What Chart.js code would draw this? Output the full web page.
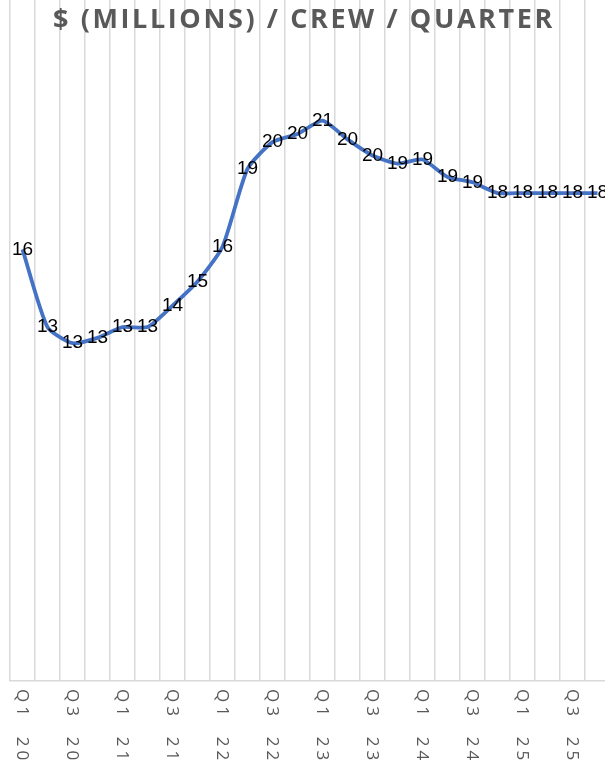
<!DOCTYPE html>
<html>
<head>
<meta charset="utf-8">
<script src="https://cdn.jsdelivr.net/npm/chart.js@4"></script>
<style>
  html, body { margin: 0; padding: 0; background: #fff; overflow: hidden; }
  #wrap { width: 605px; height: 766px; overflow: hidden; }
</style>
</head>
<body>
<div id="wrap"><canvas id="myChart" width="610" height="766"></canvas></div>
<script>
const quarters = ['Q1 20','Q2 20','Q3 20','Q4 20','Q1 21','Q2 21','Q3 21','Q4 21',
  'Q1 22','Q2 22','Q3 22','Q4 22','Q1 23','Q2 23','Q3 23','Q4 23',
  'Q1 24','Q2 24','Q3 24','Q4 24','Q1 25','Q2 25','Q3 25','Q4 25'];
const revenuePerCrew = [16.1, 13.2, 12.6, 12.8, 13.2, 13.2, 14.0, 14.9,
  16.2, 19.1, 20.1, 20.4, 20.9, 20.2, 19.6, 19.3,
  19.45, 18.8, 18.6, 18.2, 18.2, 18.2, 18.2, 18.2];
const shownTicks = ['Q1 20','Q3 20','Q1 21','Q3 21','Q1 22','Q3 22','Q1 23','Q3 23','Q1 24','Q3 24','Q1 25','Q3 25'];
const chartTitle = '$ (MILLIONS) / CREW / QUARTER';

const titlePlugin = {
  id: 'overTitle',
  afterDraw(chart) {
    const c = chart.ctx;
    c.save();
    c.font = 'bold 27px "Open Sans"';
    c.fillStyle = '#595959';
    c.letterSpacing = '2.6px';
    c.textAlign = 'center';
    c.textBaseline = 'middle';
    c.fillText(chartTitle, 304, 20);
    c.restore();
  }
};

const valueLabels = {
  id: 'valueLabels',
  afterDatasetsDraw(chart) {
    const c = chart.ctx;
    const meta = chart.getDatasetMeta(0);
    c.save();
    c.font = '19px "Liberation Sans"';
    c.fillStyle = '#000';
    c.textAlign = 'center';
    c.textBaseline = 'middle';
    meta.data.forEach((pt, i) => {
      c.fillText(Math.round(revenuePerCrew[i]), pt.x, pt.y);
    });
    c.restore();
  }
};

const sideTicks = {
  id: 'sideTicks',
  afterDraw(chart) {
    const c = chart.ctx;
    const xs = chart.scales.x;
    c.save();
    c.font = '17px "Open Sans"';
    c.fillStyle = '#595959';
    c.letterSpacing = '4px';
    c.textAlign = 'left';
    c.textBaseline = 'middle';
    shownTicks.forEach(t => {
      const x = xs.getPixelForValue(quarters.indexOf(t));
      c.save();
      c.translate(x - 1, chart.chartArea.bottom + 8);
      c.rotate(Math.PI / 2);
      c.fillText(t.replace(' ', '  '), 0, 0);
      c.restore();
    });
    c.restore();
  }
};

const ctx = document.getElementById('myChart');
new Chart(ctx, {
  type: 'line',
  data: {
    labels: quarters,
    datasets: [{
      data: revenuePerCrew,
      borderColor: '#4472C4',
      borderWidth: 3.8,
      tension: 0.2,
      pointRadius: 0,
      fill: false
    }]
  },
  options: {
    responsive: false,
    animation: false,
    layout: { padding: { left: 10, right: 0, top: 0, bottom: 85 } },
    scales: {
      x: {
        offset: true,
        grid: { offset: true, color: '#d9d9d9', lineWidth: 1.5, drawTicks: false },
        border: { color: '#d9d9d9', width: 1.5 },
        ticks: { display: false }
      },
      y: { display: false, min: 0, max: 25.4 }
    },
    plugins: { legend: { display: false }, tooltip: { enabled: false } }
  },
  plugins: [titlePlugin, valueLabels, sideTicks]
});
</script>
</body>
</html>
